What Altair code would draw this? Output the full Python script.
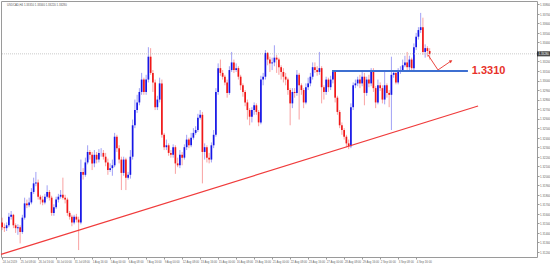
import altair as alt
import pandas as pd

# ---- candle data (USDCAD, H4) ----
open_ = [1.3151,1.3146,1.3145,1.3148,1.3157,1.3159,1.3148,1.3145,1.3146,1.3141,
1.3156,1.3171,1.3169,1.3172,1.3183,1.3192,1.3193,1.3178,1.3175,1.3172,
1.3178,1.3183,1.3177,1.3161,1.3167,1.3175,1.3178,1.3180,1.3177,1.3175,
1.3161,1.3157,1.3151,1.3157,1.3154,1.3151,1.3204,1.3201,1.3214,1.3225,
1.3222,1.3213,1.3222,1.3217,1.3224,1.3224,1.3220,1.3214,1.3206,1.3208,
1.3211,1.3241,1.3229,1.3217,1.3203,1.3217,1.3198,1.3201,1.3220,1.3253,
1.3269,1.3277,1.3288,1.3301,1.3288,1.3301,1.3325,1.3308,1.3298,1.3272,
1.3280,1.3297,1.3243,1.3230,1.3232,1.3224,1.3222,1.3230,1.3213,1.3211,
1.3222,1.3219,1.3230,1.3238,1.3232,1.3240,1.3245,1.3248,1.3261,1.3264,
1.3225,1.3230,1.3219,1.3217,1.3232,1.3243,1.3288,1.3313,1.3308,1.3304,
1.3298,1.3287,1.3311,1.3319,1.3311,1.3313,1.3304,1.3295,1.3288,1.3277,
1.3269,1.3262,1.3269,1.3274,1.3267,1.3256,1.3301,1.3304,1.3329,1.3322,
1.3318,1.3319,1.3324,1.3322,1.3314,1.3309,1.3304,1.3301,1.3290,1.3276,
1.3288,1.3287,1.3306,1.3295,1.3290,1.3277,1.3293,1.3297,1.3304,1.3314,
1.3311,1.3309,1.3313,1.3293,1.3288,1.3301,1.3293,1.3301,1.3309,1.3282,
1.3267,1.3253,1.3248,1.3241,1.3234,1.3231,1.3272,1.3295,1.3297,1.3301,
1.3297,1.3304,1.3287,1.3301,1.3297,1.3311,1.3292,1.3277,1.3295,1.3292,
1.3280,1.3295,1.3287,1.3285,1.3306,1.3308,1.3298,1.3309,1.3311,1.3316,
1.3319,1.3314,1.3322,1.3313,1.3335,1.3346,1.3353,1.3356,1.3330,1.3334,1.3331]

high = [1.3156,1.3150,1.3151,1.3161,1.3163,1.3160,1.3150,1.3149,1.3148,1.3159,
1.3177,1.3175,1.3177,1.3187,1.3198,1.3204,1.3196,1.3180,1.3179,1.3181,
1.3190,1.3185,1.3179,1.3170,1.3178,1.3181,1.3185,1.3198,1.3180,1.3177,
1.3163,1.3159,1.3159,1.3160,1.3157,1.3217,1.3208,1.3219,1.3232,1.3227,
1.3225,1.3227,1.3225,1.3228,1.3229,1.3227,1.3224,1.3218,1.3213,1.3217,
1.3245,1.3243,1.3232,1.3220,1.3220,1.3219,1.3204,1.3227,1.3259,1.3280,
1.3285,1.3292,1.3308,1.3303,1.3306,1.3335,1.3334,1.3311,1.3301,1.3284,
1.3303,1.3301,1.3245,1.3238,1.3234,1.3227,1.3233,1.3232,1.3219,1.3227,
1.3225,1.3233,1.3243,1.3240,1.3245,1.3250,1.3252,1.3265,1.3269,1.3267,
1.3234,1.3232,1.3224,1.3235,1.3248,1.3292,1.3318,1.3322,1.3311,1.3306,
1.3301,1.3315,1.3330,1.3322,1.3318,1.3315,1.3306,1.3297,1.3290,1.3280,
1.3271,1.3272,1.3277,1.3276,1.3269,1.3305,1.3308,1.3332,1.3330,1.3325,
1.3324,1.3337,1.3327,1.3324,1.3316,1.3313,1.3308,1.3303,1.3292,1.3292,
1.3292,1.3311,1.3308,1.3297,1.3292,1.3297,1.3303,1.3308,1.3319,1.3319,
1.3315,1.3330,1.3315,1.3295,1.3304,1.3303,1.3305,1.3311,1.3311,1.3284,
1.3269,1.3256,1.3250,1.3243,1.3238,1.3276,1.3298,1.3301,1.3304,1.3306,
1.3309,1.3308,1.3304,1.3306,1.3313,1.3313,1.3294,1.3301,1.3298,1.3295,
1.3311,1.3297,1.3290,1.3325,1.3311,1.3311,1.3313,1.3315,1.3322,1.3326,
1.3330,1.3326,1.3324,1.3339,1.3350,1.3356,1.3371,1.3366,1.3338,1.3336,1.3334]

low = [1.3143,1.3141,1.3142,1.3146,1.3154,1.3145,1.3140,1.3138,1.3129,1.3139,
1.3154,1.3166,1.3167,1.3170,1.3181,1.3189,1.3175,1.3170,1.3169,1.3170,
1.3176,1.3174,1.3158,1.3158,1.3165,1.3172,1.3176,1.3175,1.3171,1.3158,
1.3154,1.3147,1.3149,1.3151,1.3122,1.3149,1.3196,1.3199,1.3212,1.3217,
1.3206,1.3209,1.3213,1.3214,1.3220,1.3217,1.3210,1.3201,1.3204,1.3200,
1.3209,1.3225,1.3213,1.3185,1.3200,1.3185,1.3196,1.3197,1.3217,1.3250,
1.3266,1.3274,1.3285,1.3285,1.3285,1.3298,1.3306,1.3288,1.3269,1.3269,
1.3277,1.3240,1.3227,1.3227,1.3221,1.3219,1.3219,1.3202,1.3209,1.3208,
1.3211,1.3217,1.3227,1.3229,1.3230,1.3238,1.3243,1.3246,1.3259,1.3192,
1.3217,1.3214,1.3213,1.3214,1.3229,1.3241,1.3285,1.3305,1.3301,1.3295,
1.3282,1.3285,1.3309,1.3308,1.3309,1.3301,1.3290,1.3283,1.3273,1.3259,
1.3253,1.3256,1.3264,1.3264,1.3252,1.3254,1.3295,1.3301,1.3316,1.3309,
1.3311,1.3315,1.3308,1.3306,1.3301,1.3298,1.3295,1.3285,1.3253,1.3271,
1.3282,1.3284,1.3259,1.3285,1.3271,1.3275,1.3290,1.3294,1.3301,1.3308,
1.3305,1.3306,1.3276,1.3280,1.3285,1.3288,1.3290,1.3297,1.3277,1.3264,
1.3250,1.3243,1.3238,1.3230,1.3228,1.3229,1.3269,1.3292,1.3294,1.3292,
1.3294,1.3274,1.3284,1.3293,1.3294,1.3288,1.3271,1.3275,1.3289,1.3276,
1.3275,1.3282,1.3272,1.3248,1.3303,1.3296,1.3296,1.3307,1.3309,1.3314,
1.3311,1.3311,1.3309,1.3311,1.3332,1.3343,1.3350,1.3327,1.3324,1.3325,1.3322]

close = [1.3146,1.3145,1.3148,1.3157,1.3159,1.3148,1.3145,1.3146,1.3141,1.3156,
1.3171,1.3169,1.3172,1.3183,1.3192,1.3193,1.3178,1.3175,1.3172,1.3178,
1.3183,1.3177,1.3161,1.3167,1.3175,1.3178,1.3180,1.3177,1.3175,1.3161,
1.3157,1.3151,1.3157,1.3154,1.3151,1.3204,1.3201,1.3214,1.3225,1.3222,
1.3213,1.3222,1.3217,1.3224,1.3224,1.3220,1.3214,1.3206,1.3208,1.3211,
1.3241,1.3229,1.3217,1.3203,1.3217,1.3198,1.3201,1.3220,1.3253,1.3269,
1.3277,1.3288,1.3301,1.3288,1.3301,1.3325,1.3308,1.3298,1.3272,1.3280,
1.3297,1.3243,1.3230,1.3232,1.3224,1.3222,1.3230,1.3213,1.3211,1.3222,
1.3219,1.3230,1.3238,1.3232,1.3240,1.3245,1.3248,1.3261,1.3264,1.3225,
1.3230,1.3219,1.3217,1.3232,1.3243,1.3288,1.3313,1.3308,1.3304,1.3298,
1.3287,1.3311,1.3319,1.3311,1.3313,1.3304,1.3295,1.3288,1.3277,1.3269,
1.3262,1.3269,1.3274,1.3267,1.3256,1.3301,1.3304,1.3329,1.3322,1.3318,
1.3319,1.3324,1.3322,1.3314,1.3309,1.3304,1.3301,1.3290,1.3276,1.3288,
1.3287,1.3306,1.3295,1.3290,1.3277,1.3293,1.3297,1.3304,1.3314,1.3311,
1.3309,1.3313,1.3293,1.3288,1.3301,1.3293,1.3301,1.3309,1.3282,1.3267,
1.3253,1.3248,1.3241,1.3234,1.3231,1.3272,1.3295,1.3297,1.3301,1.3297,
1.3304,1.3287,1.3301,1.3297,1.3311,1.3292,1.3277,1.3295,1.3292,1.3280,
1.3295,1.3287,1.3285,1.3306,1.3308,1.3298,1.3309,1.3311,1.3316,1.3319,
1.3314,1.3322,1.3313,1.3335,1.3346,1.3353,1.3356,1.3330,1.3334,1.3331,1.3328]

# ---- axis ticks / labels ----
tick_bars = [0, 8, 16, 24, 32, 40, 48, 56, 64, 72, 80, 88, 96, 104, 112,
             120, 128, 136, 144, 152, 160, 168, 176, 184]
tick_labels = ["24 Jul 2019", "25 Jul 08:00", "26 Jul 16:00", "30 Jul 00:00",
               "31 Jul 08:00", "1 Aug 16:00", "5 Aug 00:00", "6 Aug 08:00",
               "7 Aug 16:00", "9 Aug 00:00", "12 Aug 08:00", "13 Aug 16:00",
               "15 Aug 00:00", "16 Aug 08:00", "19 Aug 16:00", "21 Aug 00:00",
               "22 Aug 08:00", "23 Aug 16:00", "27 Aug 00:00", "28 Aug 08:00",
               "29 Aug 16:00", "2 Sep 00:00", "3 Sep 08:00", "4 Sep 16:00"]
price_ticks = [1.312, 1.313, 1.314, 1.315, 1.316, 1.317, 1.318, 1.319, 1.320,
               1.321, 1.322, 1.323, 1.324, 1.325, 1.326, 1.327, 1.328, 1.329,
               1.330, 1.331, 1.332, 1.333, 1.334, 1.335, 1.336, 1.337, 1.338]

# ---- drawings ----
trend_bar = [-0.5, 211.5]
trend_price = [1.31175, 1.32733]
level_bar = [146.6, 207.0]
level_price = [1.3310, 1.3310]
level_text = "1.3310"
level_text_bar = 208.7
arrow_bar = [189.3, 193.7, 199.5]
arrow_price = [1.33268, 1.33111, 1.33205]
header = "USDCAD,H4  1.33310 1.33340 1.33220 1.33280"

BLUE = "#1616e6"
RED = "#f01818"

n = len(close)
df = pd.DataFrame({
    "bar": list(range(n)),
    "open": open_, "high": high, "low": low, "close": close,
})
df["high"] = df[["high", "open", "close"]].max(axis=1)
df["low"] = df[["low", "open", "close"]].min(axis=1)
df["dir"] = ["up" if c >= o else "down" for o, c in zip(open_, close)]

bid = close[-1]

xs = alt.Scale(domain=[-0.5, 237.7], nice=False, zero=False)
ys = alt.Scale(domain=[1.31147, 1.33835], nice=False, zero=False)
col = alt.Color("dir:N", scale=alt.Scale(domain=["up", "down"], range=[BLUE, RED]), legend=None)

label_expr = "[" + ",".join("'" + t + "'" for t in tick_labels) + "][indexof([" + \
    ",".join(str(b) for b in tick_bars) + "], datum.value)]"

x_axis = alt.Axis(values=tick_bars, labelExpr=label_expr, labelFontSize=2.8,
                  labelColor="#666", labelFont="Liberation Sans", tickSize=2,
                  tickColor="#999", domain=False, grid=False, labelAlign="left",
                  labelPadding=1, labelFlush=False, labelOverlap=False, title=None)
y_axis = alt.Axis(orient="right", values=price_ticks, format=".5f", labelFontSize=2.9,
                  labelColor="#666", labelFont="Liberation Sans", tickSize=2,
                  tickColor="#999", domain=False, grid=False, labelPadding=0.5,
                  labelFlush=False, labelOverlap=False, title=None)


def X(field):
    return alt.X(field, scale=xs, axis=x_axis)


def Y(field):
    return alt.Y(field, scale=ys, axis=y_axis)


wicks = alt.Chart(df).mark_rule(strokeWidth=0.9, opacity=0.45).encode(
    x=X("bar:Q"), y=Y("low:Q"), y2="high:Q", color=col)
bodies = alt.Chart(df).mark_rule(strokeWidth=1.7).encode(
    x=X("bar:Q"), y=Y("open:Q"), y2="close:Q", color=col)

bid_df = pd.DataFrame({"p": [bid], "t": [f"{bid:.5f}"]})
bid_line = alt.Chart(bid_df).mark_rule(color="#bdbdbd", strokeWidth=0.8, strokeDash=[1, 1]).encode(
    y=Y("p:Q"))

trend = alt.Chart(pd.DataFrame({"b": trend_bar, "p": trend_price})).mark_line(
    color="#f03c3c", strokeWidth=1.2).encode(x=X("b:Q"), y=Y("p:Q"))

level = alt.Chart(pd.DataFrame({"b": level_bar, "p": level_price})).mark_line(
    color="#3d6fd1", strokeWidth=2).encode(x=X("b:Q"), y=Y("p:Q"))

level_lbl = alt.Chart(pd.DataFrame({"b": [level_text_bar], "p": [level_price[0]], "t": [level_text]})).mark_text(
    align="left", baseline="middle", fontSize=11, fontWeight="bold", color="#e8322a",
    font="Liberation Sans").encode(x=X("b:Q"), y=Y("p:Q"), text="t:N")

arrow_df = pd.DataFrame({"b": arrow_bar, "p": arrow_price, "o": [0, 1, 2]})
arrow = alt.Chart(arrow_df).mark_line(color="#e8322a", strokeWidth=0.9).encode(
    x=X("b:Q"), y=Y("p:Q"), order="o:Q")
arrow_head = alt.Chart(arrow_df.iloc[[2]]).mark_point(
    shape="triangle-up", angle=56, filled=True, size=12, color="#e8322a", opacity=1).encode(
    x=X("b:Q"), y=Y("p:Q"))

bid_box = alt.Chart(bid_df).mark_tick(orient="horizontal", size=13, thickness=5, color="#000000").encode(
    x=alt.value(542.5), y=Y("p:Q"))
bid_txt = alt.Chart(bid_df).mark_text(align="left", baseline="middle", fontSize=2.9,
                                      color="white", font="Liberation Sans").encode(
    x=alt.value(537.5), y=Y("p:Q"), text="t:N")

head = alt.Chart(pd.DataFrame({"t": [header]})).mark_text(
    align="left", baseline="middle", fontSize=2.8, color="#555", font="Liberation Sans").encode(
    x=alt.value(6), y=alt.value(4), text="t:N")

chart = alt.layer(wicks, bodies, bid_line, trend, level, level_lbl, arrow, arrow_head,
                  head, bid_box, bid_txt).properties(
    width=536, height=256,
    autosize=alt.AutoSizeParams(type="none"),
    padding={"left": 1, "top": 1, "right": 13, "bottom": 9},
    background="white",
).configure_view(stroke="#9a9a9a", strokeWidth=1)

chart.save("out.html", embed_options={"renderer": "svg", "actions": False})
